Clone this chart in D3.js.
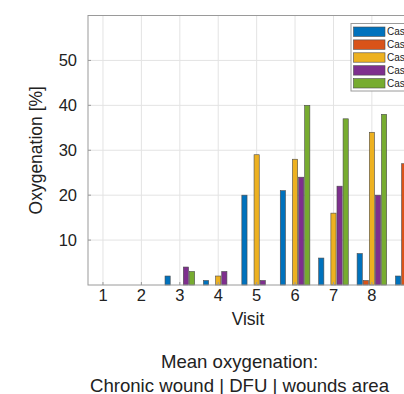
<!DOCTYPE html>
<html lang="en">
<head>
<meta charset="UTF-8">
<title>Mean oxygenation</title>
<style>
  body { margin: 0; background: #fff; overflow: hidden; }
  svg { display: block; font-family: "Liberation Sans", Arial, Helvetica, sans-serif; }
  .grid line { stroke: #e3e3e3; stroke-width: 1; }
  .frame { stroke: #9a9a9a; stroke-width: 1; fill: none; }
  .tick-label { font-size: 16.5px; fill: #222; }
  .axis-title { font-size: 17.5px; fill: #222; }
  .caption { font-size: 18.6px; fill: #222; text-anchor: middle; }
  .legend text { font-size: 10px; fill: #222; }
</style>
</head>
<body>
<svg width="404" height="394"></svg>
<script src="https://cdnjs.cloudflare.com/ajax/libs/d3/7.8.5/d3.min.js"></script>
<script>
// visits on the x axis (visit 9 is cut off by the right edge of the picture)
var visits = [1, 2, 3, 4, 5, 6, 7, 8, 9];
var seriesNames = ["Case 1", "Case 2", "Case 3", "Case 4", "Case 5"];
var seriesColors = ["#0072BD", "#D95319", "#EDB120", "#7E2F8E", "#77AC30"];

// mean oxygenation [%] per visit, one array per case (null = not visible)
var case1 = [0, 0, 2, 1, 20, 21, 6, 7, 2];
var case2 = [0, 0, 0, 0, 0, 0, 0, 1, 27];
var case3 = [0, 0, 0, 2, 29, 28, 16, 34, null];
var case4 = [0, 0, 4, 3, 1, 24, 22, 20, null];
var case5 = [0, 0, 3, 0, 0, 40, 37, 38, null];
var allSeries = [case1, case2, case3, case4, case5];

var yTicks = [10, 20, 30, 40, 50];
var xTicks = visits;
var xTickLabels = ["1", "2", "3", "4", "5", "6", "7", "8"];

var svg = d3.select("svg");
var plotL = 88, plotR = 408, plotT = 15.5, plotB = 285;

var x = d3.scaleLinear().domain([0.61, 8.94]).range([plotL, plotR]);
var y = d3.scaleLinear().domain([0, 60]).range([plotB, plotT]);
var unit = x(2) - x(1);
var inner = d3.scaleBand().domain(d3.range(seriesNames.length))
    .range([-unit * 0.385, unit * 0.385]).paddingInner(0.15);

// grid
var grid = svg.append("g").attr("class", "grid");
grid.selectAll(".gy").data(yTicks).enter().append("line")
    .attr("x1", plotL).attr("x2", plotR)
    .attr("y1", function(d) { return y(d); }).attr("y2", function(d) { return y(d); });
grid.selectAll(".gx").data(xTicks).enter().append("line")
    .attr("y1", plotT).attr("y2", plotB)
    .attr("x1", function(d) { return x(d); }).attr("x2", function(d) { return x(d); });

// bars
var bars = [];
allSeries.forEach(function(s, si) {
  s.forEach(function(v, vi) {
    if (v) bars.push({ visit: visits[vi], value: v, s: si });
  });
});
svg.append("g").selectAll("rect").data(bars).enter().append("rect")
    .attr("x", function(d) { return x(d.visit) + inner(d.s); })
    .attr("width", inner.bandwidth())
    .attr("y", function(d) { return y(d.value); })
    .attr("height", function(d) { return y(0) - y(d.value); })
    .attr("fill", function(d) { return seriesColors[d.s]; })
    .attr("stroke", "#4a4a4a")
    .attr("stroke-width", 0.6);

// frame + ticks
svg.append("rect").attr("class", "frame")
    .attr("x", plotL).attr("y", plotT).attr("width", plotR - plotL).attr("height", plotB - plotT);
svg.append("g").selectAll("line").data(yTicks).enter().append("line")
    .attr("class", "frame")
    .attr("x1", plotL).attr("x2", plotL + 3)
    .attr("y1", function(d) { return y(d); }).attr("y2", function(d) { return y(d); });
svg.append("g").selectAll("line").data(xTicks).enter().append("line")
    .attr("class", "frame")
    .attr("y1", plotB).attr("y2", plotB - 3)
    .attr("x1", function(d) { return x(d); }).attr("x2", function(d) { return x(d); });

// tick labels
svg.append("g").selectAll("text").data(yTicks).enter().append("text")
    .attr("class", "tick-label")
    .attr("text-anchor", "end")
    .attr("x", plotL - 11)
    .attr("y", function(d) { return y(d) + 6; })
    .text(function(d) { return d; });
svg.append("g").selectAll("text").data(xTickLabels).enter().append("text")
    .attr("class", "tick-label")
    .attr("text-anchor", "middle")
    .attr("x", function(d) { return x(+d); })
    .attr("y", plotB + 16)
    .text(function(d) { return d; });

// axis titles
svg.append("text").attr("class", "axis-title")
    .attr("text-anchor", "middle")
    .attr("x", (plotL + plotR) / 2).attr("y", 324.5)
    .text("Visit");
svg.append("text").attr("class", "axis-title")
    .attr("text-anchor", "middle")
    .attr("transform", "translate(42," + (plotT + plotB) / 2 + ") rotate(-90)")
    .text("Oxygenation [%]");

// caption
svg.append("text").attr("class", "caption").attr("x", 239.5).attr("y", 368.3).text("Mean oxygenation:");
svg.append("text").attr("class", "caption").attr("x", 239.5).attr("y", 391.7).text("Chronic wound | DFU | wounds area");

// legend
var lg = svg.append("g").attr("class", "legend");
lg.append("rect").attr("x", 351).attr("y", 23.5).attr("width", 90).attr("height", 67.5)
    .attr("fill", "#fff").attr("stroke", "#9a9a9a").attr("stroke-width", 1);
var ly = d3.scalePoint().domain(d3.range(seriesNames.length)).range([31.7, 83.3]);
var item = lg.selectAll(".item").data(seriesNames).enter().append("g")
    .attr("transform", function(d, i) { return "translate(0," + ly(i) + ")"; });
item.append("rect").attr("x", 353.5).attr("y", -4.7).attr("width", 31.5).attr("height", 9.4)
    .attr("fill", function(d, i) { return seriesColors[i]; })
    .attr("stroke", "#4a4a4a").attr("stroke-width", 0.6);
item.append("text").attr("x", 387).attr("y", 3.6).text(function(d) { return d; });
</script>
</body>
</html>
